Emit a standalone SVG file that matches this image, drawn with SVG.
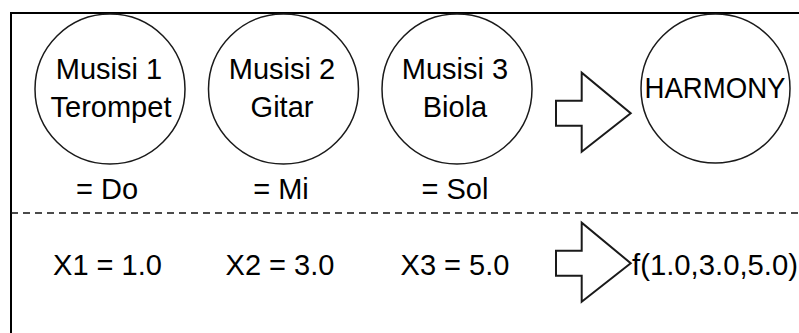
<svg xmlns="http://www.w3.org/2000/svg" width="799" height="333" viewBox="0 0 799 333">
<style>
.c{fill:#fff;stroke:#1a1a1a;stroke-width:1.5}
.t{font-family:"Liberation Sans",Arial,sans-serif;font-size:29px;fill:#000;text-anchor:middle}
.a{fill:#fff;stroke:#1a1a1a;stroke-width:2;stroke-linejoin:miter}
</style>
<rect width="799" height="333" fill="#fff"/>
<g id="frame">
<path d="M11 340 V13 H810" fill="none" stroke="#000" stroke-width="2"/>
</g>
<g id="divider">
<line x1="11" y1="213" x2="799" y2="213" stroke="#111" stroke-width="1.5" stroke-dasharray="7 5"/>
</g>
<g id="musisi1">
<circle class="c" cx="110" cy="89" r="75"/>
<text class="t" x="109" y="79">Musisi 1</text>
<text class="t" x="111" y="117">Terompet</text>
</g>
<g id="musisi2">
<circle class="c" cx="283.5" cy="89" r="75"/>
<text class="t" x="282" y="79">Musisi 2</text>
<text class="t" x="282" y="117">Gitar</text>
</g>
<g id="musisi3">
<circle class="c" cx="457" cy="89" r="75"/>
<text class="t" x="455" y="79">Musisi 3</text>
<text class="t" x="455" y="117">Biola</text>
</g>
<g id="harmony">
<circle class="c" cx="715.5" cy="88.5" r="74.5"/>
<text class="t" x="715" y="98" textLength="141" lengthAdjust="spacingAndGlyphs">HARMONY</text>
</g>
<g id="notes">
<text class="t" x="107" y="199">= Do</text>
<text class="t" x="281" y="199">= Mi</text>
<text class="t" x="455" y="199">= Sol</text>
</g>
<g id="values">
<text class="t" x="107.5" y="275">X1 = 1.0</text>
<text class="t" x="280" y="275">X2 = 3.0</text>
<text class="t" x="455" y="275">X3 = 5.0</text>
</g>
<g id="result">
<text class="t" x="632" y="275" style="text-anchor:start" textLength="166" lengthAdjust="spacingAndGlyphs">f(1.0,3.0,5.0)</text>
</g>
<g id="connectors">
<path class="a" d="M556 100.7 H581.7 V72.7 L630.7 113.2 L581.7 151.7 V125.7 H556 Z"/>
<path class="a" d="M556 250.7 H581.7 V222.7 L630.7 263.2 L581.7 301.7 V275.7 H556 Z"/>
</g>
</svg>
